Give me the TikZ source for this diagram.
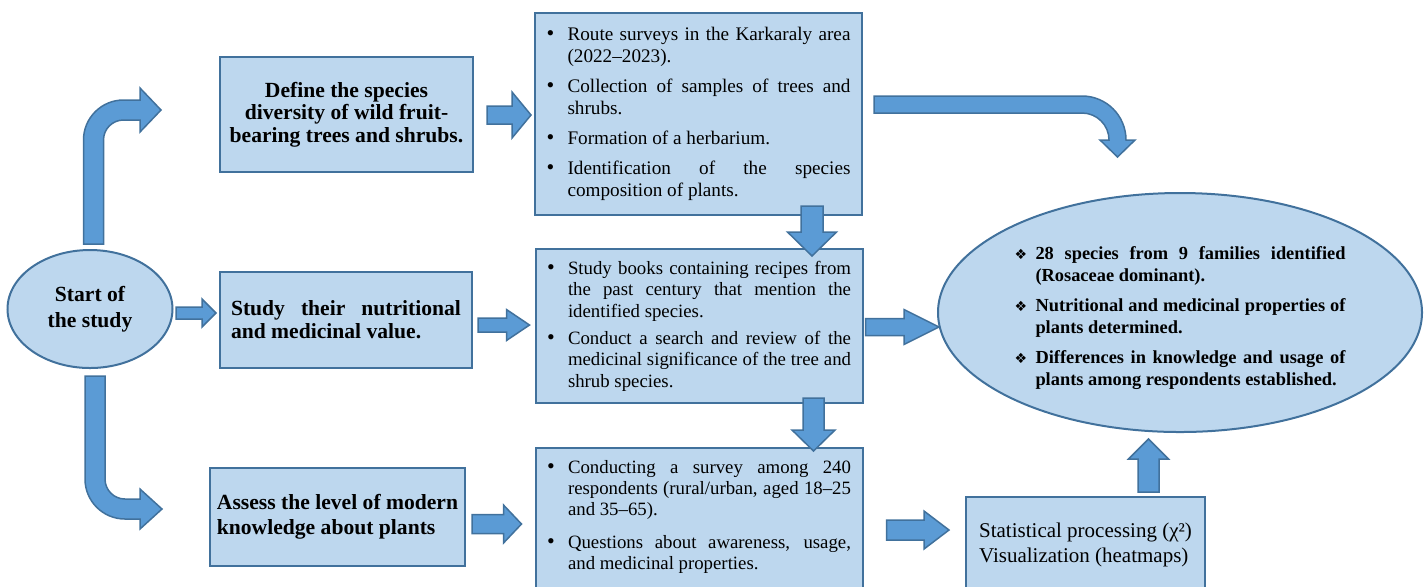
\documentclass[tikz,border=0pt]{standalone}
\usepackage{fontspec}
\setmainfont{Liberation Serif}
\newfontfamily\dejavu{DejaVu Sans}
\usepackage{xcolor}
\usepackage{tikz}
\usetikzlibrary{shapes.geometric,calc}

\definecolor{boxfill}{HTML}{BDD7EE}
\definecolor{boxline}{HTML}{41719C}
\definecolor{arrfill}{HTML}{5B9BD5}

\newlength{\itemgap}
\newif\ifnewlist
\newcommand{\bigbullet}{{\fontsize{11}{11}\selectfont\textbullet}}
\newcommand{\dingbat}{{\dejavu\fontsize{7}{7}\selectfont\char"2756}}
\newcommand{\bitem}[1][\bigbullet]{\ifnewlist\newlistfalse\else\par\vspace{\itemgap}\fi
  \noindent\hangindent=10.5pt\hangafter=1\makebox[10.5pt][l]{#1}\ignorespaces}
\tolerance=10000
\hyphenpenalty=10000

\begin{document}
\begin{tikzpicture}[
  x=0.5pt, y=-0.5pt,
  box/.style={rectangle, draw=boxline, line width=1pt, fill=boxfill},
  titlebox/.style={box, font=\fontsize{10.8}{11.2}\selectfont\bfseries},
  listbox/.style={box, minimum width=163.5pt, text width=152pt, align=justify,
                  font=\fontsize{9.6}{11}\selectfont,
                  execute at begin node={\setlength{\parskip}{0pt}\setlength{\itemgap}{#1}\newlisttrue}},
  listbox/.default=4pt,
  blockarr/.style={draw=boxline, line width=0.75pt, fill=arrfill, line join=miter},
  rarr/.style n args={3}{to path={let \p1=(\tikztostart), \p2=(\tikztotarget) in
      (\x1,\y2+#1) -- (\x2-#3,\y2+#1) -- (\x2-#3,\y2+#2) -- (\p2)
      -- (\x2-#3,\y2-#2) -- (\x2-#3,\y2-#1) -- (\x1,\y2-#1) -- cycle}},
  darr/.style n args={3}{to path={let \p1=(\tikztostart), \p2=(\tikztotarget) in
      (\x2-#1,\y1) -- (\x2-#1,\y2+#3) -- (\x2-#2,\y2+#3) -- (\p2)
      -- (\x2+#2,\y2+#3) -- (\x2+#1,\y2+#3) -- (\x2+#1,\y1) -- cycle}},
  uarr/.style n args={3}{to path={let \p1=(\tikztostart), \p2=(\tikztotarget) in
      (\x2-#1,\y1) -- (\x2-#1,\y2-#3) -- (\x2-#2,\y2-#3) -- (\p2)
      -- (\x2+#2,\y2-#3) -- (\x2+#1,\y2-#3) -- (\x2+#1,\y1) -- cycle}}
]
\useasboundingbox (0,0) rectangle (1427,586);

\node[box, ellipse, minimum width=82.5pt, minimum height=59pt, inner sep=0pt,
      align=center, font=\fontsize{10.8}{13}\selectfont\bfseries] (start) at (90,309)
      {Start of\\the study};

\node[titlebox, minimum width=126.5pt, minimum height=57.5pt, align=center] (define) at (346.5,114.5)
      {Define the species\\diversity of wild fruit-\\bearing trees and shrubs.};
\node[titlebox, minimum width=126pt, minimum height=48pt, text width=115pt, align=justify,
      font=\fontsize{10.8}{11.5}\selectfont\bfseries] (nutri) at (346,320)
      {\noindent Study their nutritional\linebreak and medicinal value.\par};
\node[titlebox, minimum width=127.5pt, minimum height=49pt, align=left,
      font=\fontsize{10.8}{12.5}\selectfont\bfseries] (assess) at (337.5,517)
      {Assess the level of modern\\knowledge about plants};

\node[listbox, minimum height=101pt] (routes) at (698.5,114) {%
  \bitem Route surveys in the Karkaraly area\linebreak (2022–2023).
  \bitem Collection of samples of trees and\linebreak shrubs.
  \bitem Formation of a herbarium.
  \bitem Identification of the species\linebreak composition of plants.\par};
\node[listbox=2.75pt, minimum height=77pt, font=\fontsize{9.4}{10.75}\selectfont] (recipes) at (699,326) {%
  \bitem Study books containing recipes from\linebreak the past century that mention the\linebreak identified species.
  \bitem Conduct a search and review of the\linebreak medicinal significance of the tree and\linebreak shrub species.\par};
\node[listbox=6pt, anchor=north, inner ysep=6pt, font=\fontsize{9.4}{10.5}\selectfont] (survey) at (699,447) {%
  \bitem Conducting a survey among 240\linebreak respondents (rural/urban, aged 18–25\linebreak and 35–65).
  \bitem Questions about awareness, usage,\linebreak and medicinal properties.\rule[-12pt]{0pt}{0pt}\par};

\node[box, ellipse, minimum width=242pt, minimum height=119.5pt, inner sep=0pt,
      text width=165.5pt, align=justify, font=\fontsize{9.2}{11}\selectfont\bfseries,
      execute at begin node={\setlength{\parskip}{0pt}\setlength{\itemgap}{4pt}\newlisttrue}] (results) at (1180,312.5) {%
  \bitem[\dingbat]\rule{0pt}{12.5pt}28 species from 9 families identified\linebreak (Rosaceae dominant).
  \bitem[\dingbat] Nutritional and medicinal properties of\linebreak plants determined.
  \bitem[\dingbat] Differences in knowledge and usage of\linebreak plants among respondents established.\par};

\node[box, minimum width=119.5pt, minimum height=47.5pt, align=left,
      font=\fontsize{10.5}{12.5}\selectfont] (stats) at (1085.5,544.5)
      {Statistical processing (χ²)\\Visualization (heatmaps)};

\draw[blockarr] ($(start.north)+(-6.5,-5)$) -- ++(0,-104) arc[start angle=180, end angle=90, radius=20pt]
  -- ++(16.5,0) -- ++(0,-12) -- ++(21,22) -- ++(-21,22) -- ++(0,-12) -- ++(-16.5,0)
  arc[start angle=90, end angle=180, radius=10pt] -- ++(0,104) -- cycle;
\draw[blockarr] ($(start.south)+(-5,7)$) -- ++(0,103) arc[start angle=180, end angle=270, radius=20pt]
  -- ++(15,0) -- ++(0,10) -- ++(22,-20) -- ++(-22,-20) -- ++(0,10) -- ++(-15,0)
  arc[start angle=270, end angle=180, radius=10pt] -- ++(0,-103) -- cycle;
\draw[blockarr] ($(routes.east)+(11,-18)$) -- ++(208,0) arc[start angle=90, end angle=0, radius=22pt]
  -- ++(9,0) -- ++(-17.5,17) -- ++(-17.5,-17) -- ++(9,0)
  arc[start angle=0, end angle=90, radius=13.5pt] -- ++(-208,0) -- cycle;

\draw[blockarr] ($(start.east)+(2.5,4)$) to[rarr={3pt}{7pt}{7pt}] ($(nutri.west)+(-3,-7)$);
\draw[blockarr] ($(define.east)+(13,0)$) to[rarr={4.5pt}{11.5pt}{9.5pt}] ($(routes.west)+(-3,1)$);
\draw[blockarr] ($(nutri.east)+(5,0)$) to[rarr={3.5pt}{7.75pt}{11.5pt}] ($(recipes.west)+(-5,-1)$);
\draw[blockarr] ($(assess.east)+(6,0)$) to[rarr={4.75pt}{9.5pt}{9pt}] ($(survey.north west)+(-13,77)$);
\draw[blockarr] ($(recipes.east)+(2,0)$) to[rarr={4.25pt}{8.75pt}{17.5pt}] ($(results.west)+(2,14.5)$);
\draw[blockarr] ($(survey.east)+(23,0)$) to[rarr={5pt}{9.5pt}{12.5pt}] ($(stats.west)+(-16,-14.5)$);
\draw[blockarr] ($(routes.south)+(113,-10)$) to[darr={5.5pt}{12.25pt}{12pt}] ($(recipes.north)+(113,8)$);
\draw[blockarr] ($(recipes.south)+(114.5,-6)$) to[darr={5.25pt}{10.75pt}{10.5pt}] ($(survey.north)+(114.5,4)$);
\draw[blockarr] ($(stats.north)+(63,-4)$) to[uarr={5.25pt}{10pt}{10pt}] ($(results.south)+(-31.5,6)$);
\end{tikzpicture}
\end{document}
